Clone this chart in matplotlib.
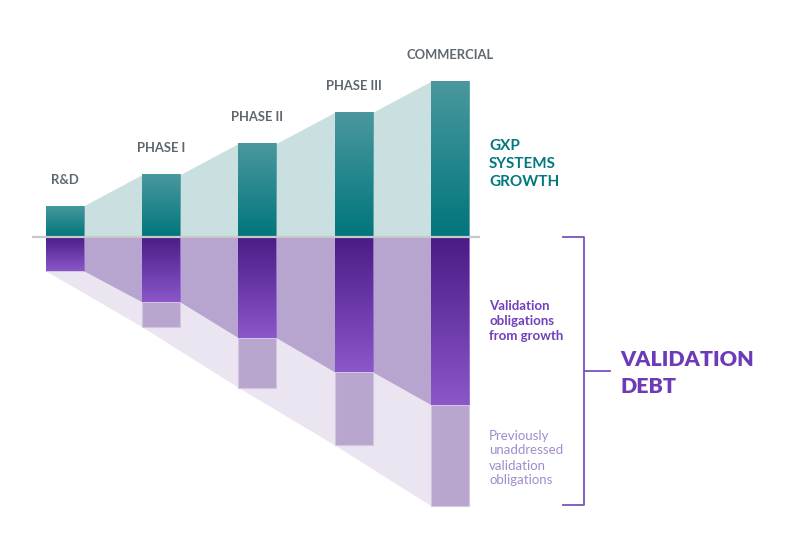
import numpy as np
import matplotlib
matplotlib.use("Agg")
import matplotlib.pyplot as plt
from matplotlib.colors import LinearSegmentedColormap

plt.rcParams['font.family'] = ['Lato', 'DejaVu Sans']

# ---- data ----
stages = ["R&D", "PHASE I", "PHASE II", "PHASE III", "COMMERCIAL"]
growth = [1.0, 2.0, 3.0, 4.0, 5.0]                 # GXP systems growth
new_obligations = [1.1, 2.1, 3.25, 4.35, 5.4]      # validation obligations from growth
prev_obligations = [0.0, 0.8, 1.6, 2.35, 3.25]     # previously unaddressed obligations

W, H = 788, 550
fig = plt.figure(figsize=(W / 100, H / 100), dpi=100)
ax = fig.add_axes([0, 0, 1, 1])
ax.set_axis_off()

# axis mapping (pixel layout)
px_per_x = 96.25
px_per_y = 31.1
x0_px, base_px = 65, 236.7
ax.set_xlim(-x0_px / px_per_x, (W - x0_px) / px_per_x)
ax.set_ylim(-(H - base_px) / px_per_y, base_px / px_per_y)

bw = 38 / px_per_x
x = np.arange(len(stages), dtype=float)
g = np.array(growth)
n = np.array(new_obligations)
p = np.array(prev_obligations)
xl = x - bw / 2
xr = x + bw / 2

# step outlines for background bands
xs = np.ravel(np.column_stack([xl, xr]))
teal_bg, purple_bg, lav_bg = "#c9dfe0", "#b7a5cf", "#ebe5f1"

# lavender band: through bottom-left corners of each stack
ax.fill_between(xl, 0, -(n + p), color=lav_bg, lw=0, zorder=1)
# medium purple band connecting new-obligation bottoms
ax.fill_between(xs, 0, -np.repeat(n, 2), color=purple_bg, lw=0, zorder=1.5)
# teal band connecting growth tops
ax.fill_between(xs, 0, np.repeat(g, 2), color=teal_bg, lw=0, zorder=1.5)

teal_cmap = LinearSegmentedColormap.from_list("teal", ["#00767c", "#4a989e"])
purple_cmap = LinearSegmentedColormap.from_list("purp", ["#8b57ca", "#4a1b86"])
grad = np.linspace(0, 1, 256).reshape(-1, 1)

def gradient_bars(bars, cmap, top, bottom):
    for b, t, bo in zip(bars, top, bottom):
        im = ax.imshow(grad, cmap=cmap, aspect="auto", origin="lower",
                       extent=[b.get_x(), b.get_x() + b.get_width(), bo, t],
                       zorder=3, interpolation="bicubic")
        im.set_clip_path(b)

tb = ax.bar(x, g, width=bw, bottom=0, color="#2a8a90", edgecolor="#5aa2a7",
            lw=0.6, zorder=2)
gradient_bars(tb, teal_cmap, g, np.zeros_like(g))

nb = ax.bar(x, -n, width=bw, bottom=0, color="#6a3aaa", edgecolor="#9a70d0",
            lw=0.6, zorder=2)
gradient_bars(nb, purple_cmap, np.zeros_like(n), -n)

pb = ax.bar(x, -p, width=bw, bottom=-n, color="#b8a6cf", edgecolor="#d2c6e2",
            lw=0.8, zorder=2.5)

# baseline
ax.plot([(32 - x0_px) / px_per_x, (480 - x0_px) / px_per_x], [0, 0],
        color="#c8c8c8", lw=1.6, zorder=4, solid_capstyle="butt")

# stage labels
for xi, gi, lab in zip(x, g, stages):
    ax.annotate(lab, (xi, gi), xytext=(0, 20), textcoords="offset pixels",
                ha="center", va="bottom", fontsize=9.4, color="#5e6670",
                fontweight="bold")

def fx(px):
    return px / W

def fy(py):
    return 1 - py / H

fig.text(fx(489), fy(164), "GXP\nSYSTEMS\nGROWTH", ha="left", va="center",
         fontsize=11, fontweight="bold", color="#00787e", linespacing=1.35)
fig.text(fx(489), fy(321), "Validation\nobligations\nfrom growth", ha="left",
         va="center", fontsize=9.5, fontweight="bold", color="#7140bb",
         linespacing=1.3)
fig.text(fx(489), fy(458), "Previously\nunaddressed\nvalidation\nobligations",
         ha="left", va="center", fontsize=9.5, color="#a08ccc", linespacing=1.3)
fig.text(fx(620), fy(373), "VALIDATION\nDEBT", ha="left", va="center",
         fontsize=15.4, fontweight="heavy", color="#6d3ab8", linespacing=1.45)

# bracket
bc = "#7b52c2"
fig.add_artist(plt.Line2D([fx(563), fx(584.3), fx(584.3), fx(563)],
                          [fy(237.3), fy(237.3), fy(505), fy(505)],
                          color=bc, lw=1.3))
fig.add_artist(plt.Line2D([fx(584.3), fx(609.5)], [fy(370.7), fy(370.7)],
                          color=bc, lw=1.3))

fig.savefig("out.png", dpi=100, facecolor="white")
